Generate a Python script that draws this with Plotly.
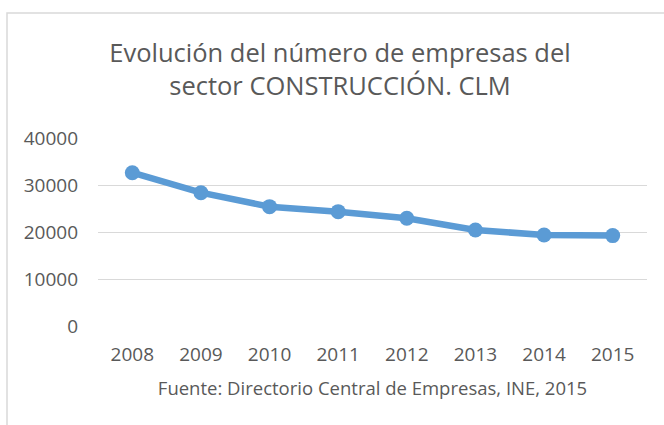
import plotly.graph_objects as go

years = ["2008", "2009", "2010", "2011", "2012", "2013", "2014", "2015"]
empresas = [32620, 28360, 25390, 24330, 22910, 20430, 19360, 19230]
y_ticks = [0, 10000, 20000, 30000, 40000]
y_tick_labels = ["0", "10000", "20000", "30000", "40000"]

W, H = 664, 425
L, R, T, B = 98, 17, 138, 99
pw, ph = W - L - R, H - T - B

def px_x(x):
    return (x - L) / pw

def px_y(y):
    return (H - B - y) / ph

font = "Open Sans"
gray = "#595959"

fig = go.Figure()
fig.add_trace(go.Scatter(
    x=years, y=empresas, mode="lines+markers",
    line=dict(color="#5B9BD5", width=6.5),
    marker=dict(color="#5B9BD5", size=15),
    showlegend=False,
))

fig.update_layout(
    width=W, height=H,
    margin=dict(l=L, r=R, t=T, b=B, autoexpand=False),
    paper_bgcolor="white", plot_bgcolor="white",
    font=dict(family=font, color=gray, size=19),
    title=dict(
        text="Evolución del número de empresas del<br>sector CONSTRUCCIÓN. CLM",
        x=340 / W, xanchor="center", xref="container",
        y=1 - 62 / H, yanchor="middle", yref="container",
        font=dict(family=font, size=25.5, color=gray),
    ),
    xaxis=dict(
        type="category", range=[-0.5, 7.5], automargin=False,
        showgrid=False, showline=False, zeroline=False,
        ticks="", ticklabelstandoff=15,
        tickfont=dict(size=19, color=gray),
        title=dict(text="Fuente: Directorio Central de Empresas, INE, 2015",
                   font=dict(size=18.5, color=gray), standoff=16),
    ),
    yaxis=dict(
        range=[0, 40000], tickvals=y_ticks, ticktext=y_tick_labels,
        automargin=False,
        showgrid=True, gridcolor="#D9D9D9", gridwidth=1,
        zeroline=False, showline=False, ticks="",
        ticklabelstandoff=19,
        tickfont=dict(size=19, color=gray),
    ),
    shapes=[dict(
        type="rect", xref="paper", yref="paper",
        x0=px_x(7), x1=px_x(700), y0=px_y(480), y1=px_y(13),
        line=dict(color="#D9D9D9", width=1.5), layer="below",
    )],
)

fig.write_html("out.html", config={"displayModeBar": False},
               post_script="document.body.style.margin='0';")
